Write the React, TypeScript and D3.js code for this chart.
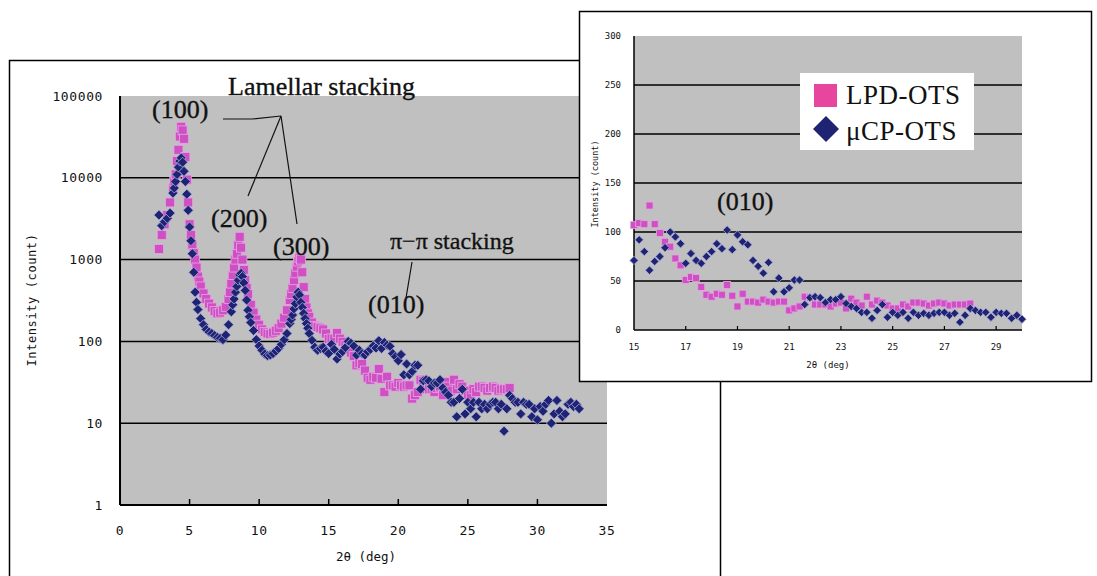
import React from 'react';
import * as d3 from 'd3';

// 2θ (deg), intensity (count)
const LPD_OTS: [number, number][] = [
  [2.8, 1350], [3.0, 2000], [3.2, 2700], [3.4, 3500], [3.6, 5000], [3.8, 7500],
  [3.9, 9000], [4.0, 11000], [4.1, 16000], [4.2, 22000], [4.3, 32000], [4.4, 42000],
  [4.5, 38000], [4.6, 30000], [4.7, 18000], [4.8, 9500], [4.9, 5000], [5.0, 2700],
  [5.1, 2000], [5.2, 1500], [5.3, 1200], [5.4, 1000], [5.5, 800], [5.6, 620],
  [5.7, 540], [5.8, 470], [6.0, 385], [6.2, 330],
  [6.4, 290], [6.6, 260], [6.8, 235], [7.0, 220], [7.2, 225], [7.4, 240],
  [7.6, 265], [7.8, 330], [7.9, 400], [8.0, 510], [8.1, 650], [8.2, 800], [8.3, 1000],
  [8.4, 1180], [8.5, 1500], [8.6, 1900], [8.7, 1400], [8.8, 1000], [8.9, 750],
  [9.0, 560], [9.1, 450], [9.2, 380], [9.4, 280], [9.6, 225], [9.8, 185],
  [10.0, 160], [10.2, 140], [10.4, 130], [10.6, 125], [10.8, 123], [11.0, 128],
  [11.2, 135], [11.4, 145], [11.6, 165], [11.8, 195], [12.0, 240], [12.2, 320],
  [12.3, 380], [12.4, 450], [12.5, 560], [12.6, 680], [12.7, 820], [12.8, 950],
  [12.9, 1050], [13.0, 1000], [13.1, 700], [13.2, 460], [13.3, 330], [13.4, 260],
  [13.5, 220], [13.6, 200], [13.8, 170], [14.0, 155], [14.2, 150], [14.4, 145], [14.6, 140],
  [14.8, 125], [15.0, 107], [15.2, 109], [15.4, 108], [15.6, 127], [15.8, 108],
  [16.0, 99], [16.2, 90], [16.4, 85], [16.6, 73], [16.8, 66], [17.0, 51],
  [17.2, 54], [17.4, 53], [17.6, 44], [17.8, 36], [18.0, 34], [18.2, 37],
  [18.4, 36], [18.6, 46], [18.8, 35], [19.0, 24], [19.2, 37], [19.4, 29],
  [19.6, 29], [19.8, 28], [20.0, 31], [20.2, 29], [20.4, 28], [20.6, 29],
  [20.8, 29], [21.0, 20], [21.2, 22], [21.4, 24], [21.6, 34], [21.8, 33],
  [22.0, 26], [22.2, 26], [22.4, 26], [22.6, 24], [22.8, 27], [23.0, 28],
  [23.2, 22], [23.4, 32], [23.6, 28], [23.8, 25], [24.0, 34], [24.2, 26],
  [24.4, 30], [24.6, 28], [24.8, 25], [25.0, 22], [25.2, 22], [25.4, 26],
  [25.6, 24], [25.8, 28], [26.0, 28], [26.2, 27], [26.4, 25], [26.6, 27],
  [26.8, 28], [27.0, 27], [27.2, 25], [27.4, 26], [27.6, 26], [27.8, 26],
  [28.0, 27],
];

const UCP_OTS: [number, number][] = [
  [2.8, 3500], [3.0, 2600], [3.2, 2900], [3.4, 3200], [3.6, 3700], [3.8, 6500],
  [3.9, 7500], [4.0, 9000], [4.1, 11000], [4.2, 13500], [4.3, 16000], [4.4, 17500],
  [4.5, 15500], [4.6, 12000], [4.7, 9000], [4.8, 6300], [4.9, 4000], [5.0, 2500],
  [5.1, 1700], [5.2, 1180], [5.3, 700], [5.4, 400], [5.5, 300], [5.6, 245], [5.8, 190], [6.0, 160], [6.2, 140],
  [6.4, 130], [6.6, 125], [6.8, 118], [7.0, 112], [7.2, 109], [7.4, 105],
  [7.6, 120], [7.8, 160], [8.0, 230], [8.1, 280], [8.2, 330], [8.3, 400], [8.4, 470],
  [8.5, 560], [8.6, 650], [8.7, 680], [8.8, 620], [8.9, 520], [9.0, 420], [9.1, 320],
  [9.2, 240], [9.3, 200], [9.4, 170], [9.6, 136], [9.8, 105],
  [10.0, 88], [10.2, 78], [10.4, 70], [10.6, 67], [10.8, 68], [11.0, 71],
  [11.2, 76], [11.4, 82], [11.6, 92], [11.8, 105], [12.0, 125], [12.2, 165],
  [12.3, 185], [12.4, 210], [12.5, 250], [12.6, 290], [12.7, 350], [12.8, 400],
  [12.9, 370], [13.0, 300], [13.1, 260], [13.2, 220], [13.3, 190], [13.4, 165],
  [13.5, 145], [13.6, 125], [13.8, 103], [14.0, 85], [14.2, 78], [14.4, 82], [14.6, 85],
  [14.8, 76], [15.0, 71], [15.2, 92], [15.4, 80], [15.6, 61], [15.8, 70],
  [16.0, 75], [16.2, 84], [16.4, 100], [16.6, 95], [16.8, 88], [17.0, 68],
  [17.2, 78], [17.4, 71], [17.6, 68], [17.8, 75], [18.0, 80], [18.2, 88],
  [18.4, 83], [18.6, 102], [18.8, 82], [19.0, 97], [19.2, 90], [19.4, 87],
  [19.6, 71], [19.8, 65], [20.0, 58], [20.2, 69], [20.4, 39], [20.6, 53],
  [20.8, 39], [21.0, 43], [21.2, 51], [21.4, 51], [21.6, 26], [21.8, 33],
  [22.0, 34], [22.2, 33], [22.4, 28], [22.6, 31], [22.8, 31], [23.0, 34],
  [23.2, 27], [23.4, 24], [23.6, 22], [23.8, 18], [24.0, 18], [24.2, 12],
  [24.4, 20], [24.6, 26], [24.8, 13], [25.0, 18], [25.2, 15], [25.4, 18],
  [25.6, 12], [25.8, 18], [26.0, 15], [26.2, 17], [26.4, 15], [26.6, 17],
  [26.8, 18], [27.0, 18], [27.2, 15], [27.4, 17], [27.6, 8], [27.8, 15],
  [28.0, 22], [28.2, 20], [28.4, 18], [28.6, 18], [28.8, 13], [29.0, 18],
  [29.2, 17], [29.4, 17], [29.6, 12], [29.8, 15], [30.0, 11], [30.2, 16],
  [30.4, 14], [30.6, 17], [30.8, 19], [31.0, 10], [31.2, 13], [31.4, 19],
  [31.6, 14], [31.8, 12], [32.0, 13], [32.2, 17], [32.4, 18], [32.6, 16],
  [32.8, 17], [33.0, 15],
];

const MAIN_Y_TICKS = [1, 10, 100, 1000, 10000, 100000];
const MAIN_X_TICKS = [0, 5, 10, 15, 20, 25, 30, 35];
const INSET_Y_TICKS = [0, 50, 100, 150, 200, 250, 300];
const INSET_X_TICKS = [15, 17, 19, 21, 23, 25, 27, 29];
const SERIES = ['LPD-OTS', 'μCP-OTS'];

const PINK = '#cf50c4';
const PINK_LEGEND = '#e8469e';
const NAVY = '#1f2373';
const PLOT_BG = '#c0c0c0';
const serif = '"Liberation Serif", "Times New Roman", serif';
const mono = '"DejaVu Sans Mono", "Liberation Mono", monospace';

const Square = ({ cx, cy, s }: { cx: number; cy: number; s: number }) => (
  <rect x={cx - s / 2} y={cy - s / 2} width={s} height={s} fill={PINK} stroke="#e2a8de" strokeWidth={0.8} />
);

const Diamond = ({ cx, cy, r }: { cx: number; cy: number; r: number }) => (
  <path
    d={`M${cx},${cy - r}L${cx + r},${cy}L${cx},${cy + r}L${cx - r},${cy}Z`}
    fill={NAVY}
    stroke="#a9abd8"
    strokeWidth={0.8}
  />
);

export default function App() {
  // main chart scales
  const x = d3.scaleLinear().domain([0, 35]).range([120, 607]);
  const y = d3.scaleLog().domain([1, 100000]).range([505, 96]);
  // inset scales
  const ix = d3.scaleLinear().domain([15, 30]).range([634, 1022]);
  const iy = d3.scaleLinear().domain([0, 300]).range([330, 36]);

  const inRange = (d: [number, number]) => d[0] >= 15 && d[0] <= 30;

  return (
    <svg width={1097} height={576} style={{ position: 'absolute', left: 0, top: 0, background: '#fff' }}>
      {/* ---------- main chart ---------- */}
      <rect x={9.5} y={60.5} width={711} height={540} fill="#fff" stroke="#000" strokeWidth={1.5} />
      <rect x={x(0)} y={y(100000)} width={x(35) - x(0)} height={y(1) - y(100000)} fill={PLOT_BG} />
      {MAIN_Y_TICKS.slice(1, -1).map((t) => (
        <line key={t} x1={x(0)} x2={x(35)} y1={y(t)} y2={y(t)} stroke="#000" strokeWidth={1.5} />
      ))}
      <line x1={x(0)} x2={x(0)} y1={y(100000)} y2={y(1)} stroke="#000" strokeWidth={2} />
      <line x1={x(0)} x2={x(35)} y1={y(1)} y2={y(1)} stroke="#000" strokeWidth={2} />
      {MAIN_X_TICKS.slice(1, -1).map((t) => (
        <line key={t} x1={x(t)} x2={x(t)} y1={y(1)} y2={y(1) - 6} stroke="#000" strokeWidth={1.5} />
      ))}
      {MAIN_Y_TICKS.map((t) => (
        <text key={t} x={103} y={y(t) + 4.5} textAnchor="end" fontFamily={mono} fontSize={13} letterSpacing={0.6} fill="#111">
          {t}
        </text>
      ))}
      {MAIN_X_TICKS.map((t) => (
        <text key={t} x={x(t)} y={535} textAnchor="middle" fontFamily={mono} fontSize={13} letterSpacing={0.6} fill="#111">
          {t}
        </text>
      ))}
      <text x={366} y={561} textAnchor="middle" fontFamily={mono} fontSize={12.5} fill="#111">
        2θ (deg)
      </text>
      <text
        transform="translate(36,300) rotate(-90)"
        textAnchor="middle"
        fontFamily={mono}
        fontSize={12}
        letterSpacing={0.6}
        fill="#111"
      >
        Intensity (count)
      </text>

      <g>
        {LPD_OTS.map((d, i) => (
          <Square key={i} cx={x(d[0])} cy={y(d[1])} s={9} />
        ))}
        {UCP_OTS.map((d, i) => (
          <Diamond key={i} cx={x(d[0])} cy={y(d[1])} r={5} />
        ))}
      </g>

      {/* annotations */}
      <g fontFamily={serif} fill="#111" stroke="#111" strokeWidth={0.35}>
        <text x={228} y={95} fontSize={26}>Lamellar stacking</text>
        <text x={152} y={118} fontSize={26}>(100)</text>
        <text x={211} y={227} fontSize={26}>(200)</text>
        <text x={273} y={255} fontSize={26}>(300)</text>
        <text x={390} y={249} fontSize={24}>π−π stacking</text>
        <text x={368} y={313} fontSize={26}>(010)</text>
      </g>
      <g stroke="#111" strokeWidth={1.2} fill="none">
        <polyline points="223,119 252,119 281,116" />
        <line x1={281} y1={116} x2={248} y2={196} />
        <line x1={281} y1={116} x2={297} y2={224} />
        <line x1={412} y1={262} x2={406} y2={298} />
      </g>

      {/* ---------- inset ---------- */}
      <rect x={579.5} y={11.5} width={512} height={370} fill="#fff" stroke="#000" strokeWidth={1.5} />
      <rect x={ix(15)} y={iy(300)} width={ix(30) - ix(15)} height={iy(0) - iy(300)} fill={PLOT_BG} />
      {INSET_Y_TICKS.slice(1, -1).map((t) => (
        <line key={t} x1={ix(15)} x2={ix(30)} y1={iy(t)} y2={iy(t)} stroke="#000" strokeWidth={1.5} />
      ))}
      <line x1={ix(15)} x2={ix(15)} y1={iy(300)} y2={iy(0)} stroke="#000" strokeWidth={1.5} />
      <line x1={ix(15)} x2={ix(30)} y1={iy(0)} y2={iy(0)} stroke="#000" strokeWidth={1.5} />
      {INSET_X_TICKS.slice(1).map((t) => (
        <line key={t} x1={ix(t)} x2={ix(t)} y1={iy(0)} y2={iy(0) - 4} stroke="#000" strokeWidth={1.2} />
      ))}
      {INSET_Y_TICKS.map((t) => (
        <text key={t} x={621} y={iy(t) + 3} textAnchor="end" fontFamily={mono} fontSize={9} fill="#111">
          {t}
        </text>
      ))}
      {INSET_X_TICKS.map((t) => (
        <text key={t} x={ix(t)} y={350} textAnchor="middle" fontFamily={mono} fontSize={9} fill="#111">
          {t}
        </text>
      ))}
      <text x={828} y={368} textAnchor="middle" fontFamily={mono} fontSize={9} fill="#111">
        2θ (deg)
      </text>
      <text transform="translate(598,184) rotate(-90)" textAnchor="middle" fontFamily={mono} fontSize={8.5} fill="#111">
        Intensity (count)
      </text>

      <g>
        {LPD_OTS.filter(inRange).map((d, i) => (
          <Square key={i} cx={ix(d[0])} cy={iy(d[1])} s={7} />
        ))}
        {UCP_OTS.filter(inRange).map((d, i) => (
          <Diamond key={i} cx={ix(d[0])} cy={iy(d[1])} r={4.2} />
        ))}
      </g>

      <text x={717} y={210} fontFamily={serif} fontSize={26} fill="#111" stroke="#111" strokeWidth={0.35}>
        (010)
      </text>

      {/* legend */}
      <rect x={800} y={73} width={174} height={77} fill="#fff" />
      <rect x={814} y={84} width={23} height={23} fill={PINK_LEGEND} />
      <path d="M826,116L839,129L826,142L813,129Z" fill={NAVY} />
      {SERIES.map((s, i) => (
        <text key={s} x={846} y={104 + i * 36} fontFamily={serif} fontSize={27} letterSpacing={0.5} fill="#111">
          {s}
        </text>
      ))}
    </svg>
  );
}
